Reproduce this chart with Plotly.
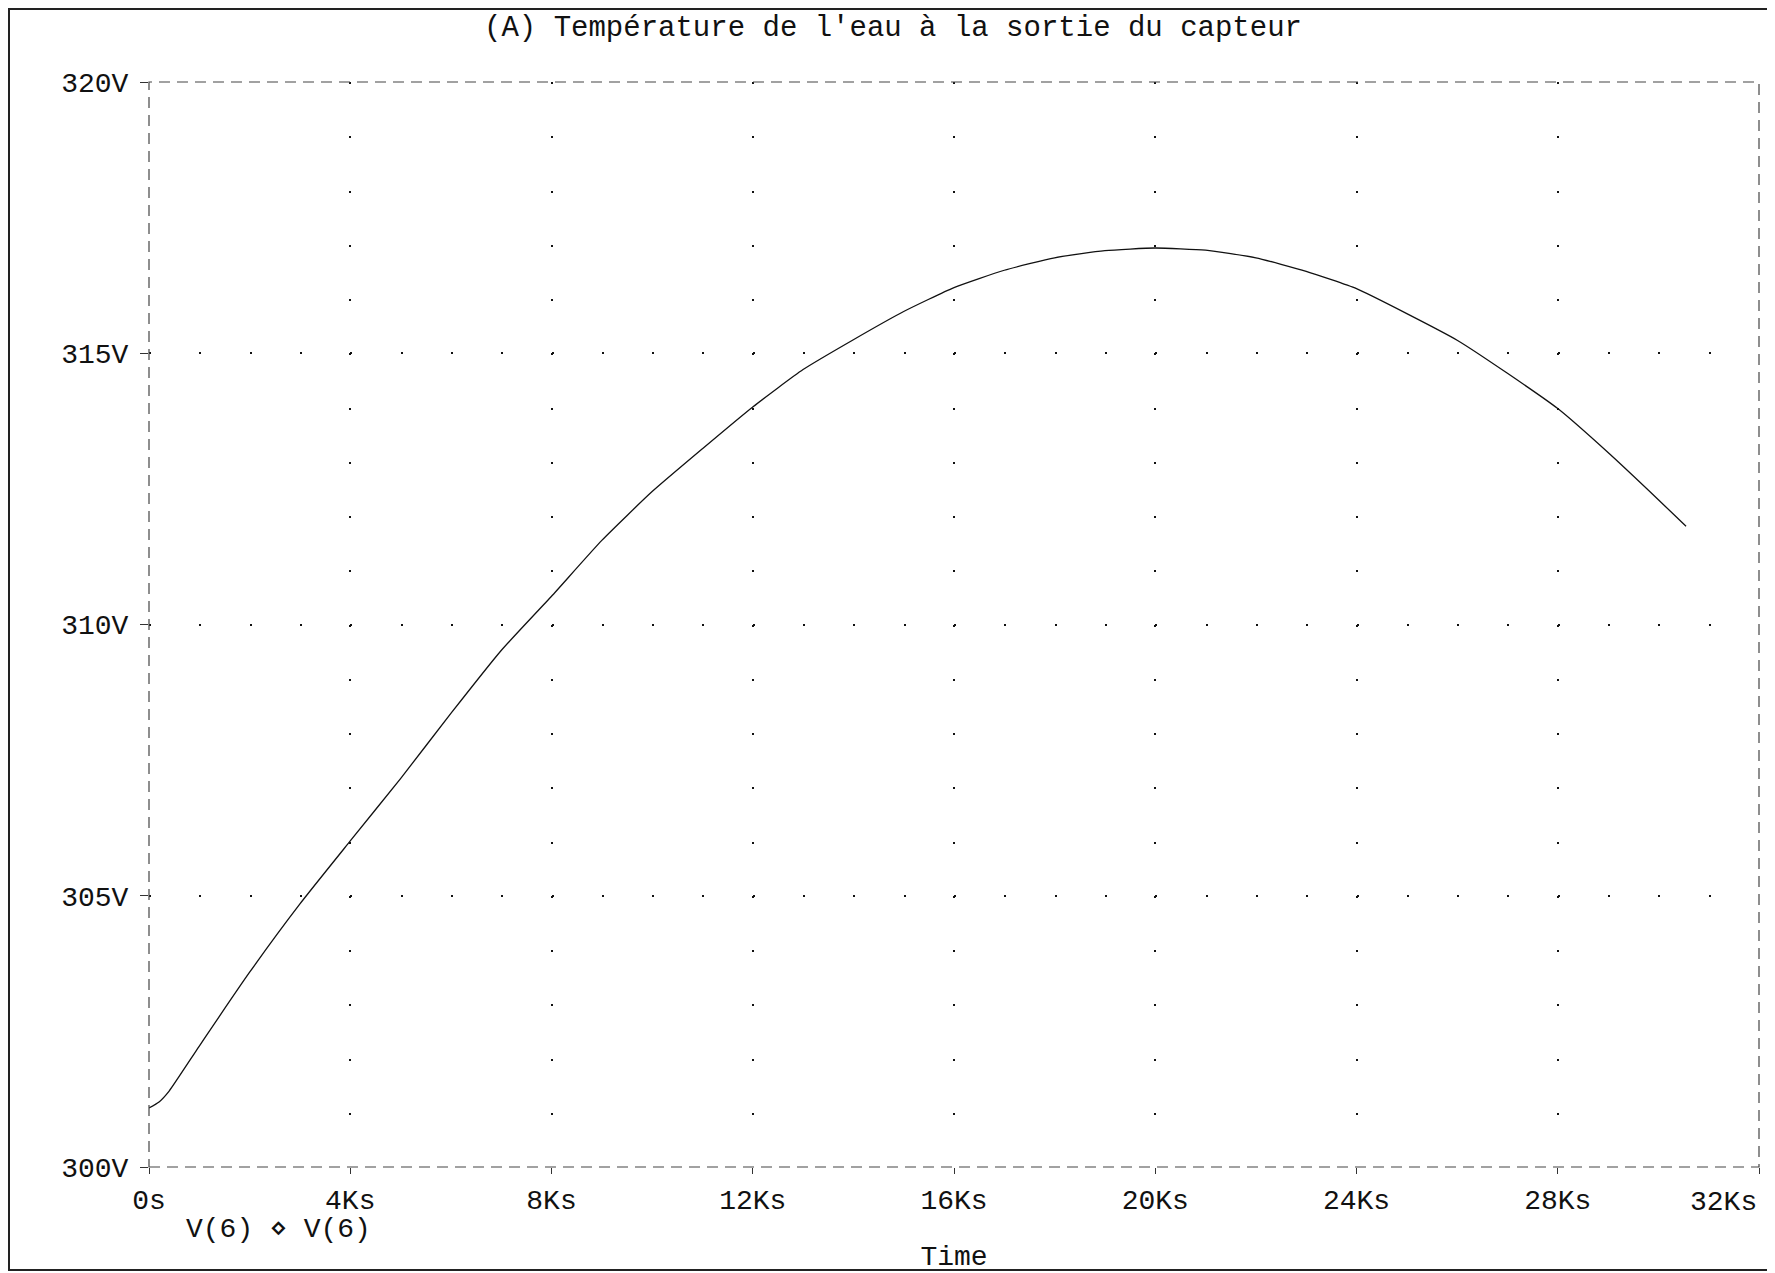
import plotly.graph_objects as go

# ---- data ----
time_s = [0, 200, 400, 1000, 2000, 3000, 4000, 5000, 6000, 7000, 8000, 9000, 10000,
          11000, 12000, 13000, 14000, 15000, 16000, 17000, 18000, 19000, 20000,
          21000, 22000, 23000, 24000, 25000, 26000, 27000, 28000, 29000, 30000, 30550]
v6 = [301.09, 301.20, 301.40, 302.23, 303.59, 304.85, 306.01, 307.16, 308.36, 309.52,
      310.52, 311.55, 312.45, 313.24, 314.01, 314.70, 315.25, 315.77, 316.21, 316.53,
      316.76, 316.89, 316.94, 316.90, 316.76, 316.51, 316.19, 315.73, 315.24, 314.63,
      313.98, 313.17, 312.30, 311.81]

x_tickvals = [0, 4000, 8000, 12000, 16000, 20000, 24000, 28000, 32000]
x_ticktext = ["0s", "4Ks", "8Ks", "12Ks", "16Ks", "20Ks", "24Ks", "28Ks", "32Ks"]
y_tickvals = [300, 305, 310, 315, 320]
y_ticktext = ["300V", "305V", "310V", "315V", "320V"]

title_text = "(A) Température de l'eau à la sortie du capteur"
legend_text = "V(6) \u22c4 V(6)"
x_title = "Time"

FONT = "Liberation Mono, Courier New, monospace"
INK = "#111111"

W, H = 1767, 1265
ML, MR, MT, MB = 141, 16, 74, 106
plot_w = W - ML - MR
plot_h = H - MT - MB
px_per_ks = plot_w / 32.0
px_per_v = plot_h / 20.0

# the last tick label sits left of its tick (right-aligned) as in the reference
axis_ticktext = x_ticktext[:-1] + [""]

fig = go.Figure()
fig.add_trace(go.Scatter(x=time_s, y=v6, mode="lines",
                         line=dict(color=INK, width=1.3, shape="spline", smoothing=0.5),
                         name="V(6)", showlegend=False))

fig.update_layout(
    width=W, height=H,
    margin=dict(l=ML, r=MR, t=MT, b=MB, autoexpand=False),
    paper_bgcolor="white", plot_bgcolor="white",
    font=dict(family=FONT, size=28, color=INK),
    title=dict(text=title_text, x=885 / W, xanchor="center",
               y=1 - 18 / H, yanchor="middle",
               font=dict(family=FONT, size=29, color=INK)),
    xaxis=dict(range=[0, 32000], tickvals=x_tickvals, ticktext=axis_ticktext,
               automargin=False,
               showgrid=True, gridcolor=INK, gridwidth=2,
               griddash="2px,%.4fpx" % (px_per_v - 2),
               zeroline=False, showline=False,
               ticks="outside", ticklen=6, tickcolor="#333333", tickwidth=1,
               ticklabelstandoff=1,
               title=dict(text=x_title, standoff=33,
                          font=dict(family=FONT, size=28, color=INK))),
    yaxis=dict(range=[300, 320], tickvals=y_tickvals, ticktext=y_ticktext,
               automargin=False,
               showgrid=True, gridcolor=INK, gridwidth=2,
               griddash="2px,%.4fpx" % (px_per_ks - 2),
               zeroline=False, showline=False,
               ticks="outside", ticklen=8, tickcolor="#333333", tickwidth=1,
               ticklabelstandoff=6),
    shapes=[
        dict(type="rect", xref="x domain", yref="y domain", x0=0, x1=1, y0=0, y1=1,
             line=dict(color="#444444", width=1.2, dash="11px,7px"), layer="above"),
        dict(type="rect", xref="paper", yref="paper",
             x0=-(ML - 1) / plot_w, x1=1 + (MR - 4) / plot_w,
             y0=-(MB - 3) / plot_h, y1=1 + (MT - 1) / plot_h,
             line=dict(color="#222222", width=2)),
    ],
    annotations=[
        dict(text=x_ticktext[-1], xref="x", yref="paper",
             x=x_tickvals[-1], y=-35.5 / plot_h,
             xanchor="right", yanchor="middle", showarrow=False,
             font=dict(family=FONT, size=28, color=INK)),
        dict(text=legend_text, xref="paper", yref="paper",
             x=(176 - ML) / plot_w, y=-(1221 - (H - MB)) / plot_h,
             xanchor="left", yanchor="middle", showarrow=False,
             font=dict(family=FONT, size=28, color=INK)),
    ],
)

fig.write_html("out.html")
